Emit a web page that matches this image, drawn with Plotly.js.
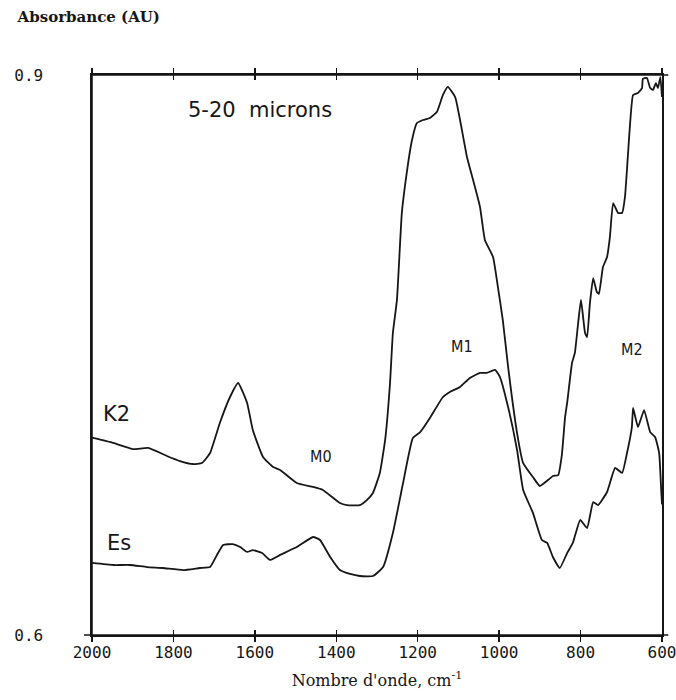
<!DOCTYPE html>
<html>
<head>
<meta charset="utf-8">
<script src="https://cdn.plot.ly/plotly-3.0.1.min.js"></script>
<style>html,body{margin:0;padding:0;background:#fff;}#chart{width:676px;height:700px;}</style>
</head>
<body>
<div id="chart"></div>
<script>
// Wavenumbers (cm-1) and absorbance values
const k2Wavenumber = [2000,1948,1899,1862,1816,1784,1752,1730,1710,1686,1661,1641,1619,1605,1580,1555,1538,1497,1457,1433,1391,1374,1342,1325,1310,1293,1280,1268,1261,1251,1239,1226,1214,1202,1187,1170,1153,1138,1126,1108,1096,1079,1064,1047,1035,1015,1003,991,978,956,941,917,900,880,868,855,846,838,833,821,814,806,799,789,784,777,769,760,755,745,735,728,720,708,698,691,679,671,659,649,647,637,629,622,615,610,604,600];
const k2Absorbance = [0.7057,0.7029,0.6996,0.7002,0.6959,0.6932,0.6916,0.6921,0.6975,0.7136,0.7275,0.7350,0.7243,0.7098,0.6954,0.6900,0.6884,0.6814,0.6793,0.6777,0.6707,0.6696,0.6696,0.6723,0.6761,0.6868,0.7045,0.7350,0.7618,0.7795,0.8261,0.8491,0.8652,0.8743,0.8759,0.8770,0.8802,0.8893,0.8936,0.8882,0.8759,0.8561,0.8437,0.8293,0.8116,0.8025,0.7864,0.7687,0.7436,0.7082,0.6921,0.6846,0.6798,0.6830,0.6852,0.6857,0.6964,0.7168,0.7243,0.7457,0.7511,0.7671,0.7795,0.7618,0.7596,0.7779,0.7912,0.7837,0.7827,0.7971,0.8025,0.8132,0.8314,0.8261,0.8261,0.8346,0.8721,0.8893,0.8904,0.8930,0.8979,0.8984,0.8930,0.8920,0.8957,0.8930,0.8989,0.8882];

const esWavenumber = [2000,1948,1907,1865,1826,1776,1735,1710,1693,1678,1654,1636,1619,1605,1582,1563,1538,1497,1457,1440,1415,1391,1366,1342,1310,1285,1261,1236,1212,1194,1170,1138,1121,1096,1072,1047,1030,1010,998,978,956,941,917,895,882,868,851,833,819,801,784,769,757,735,715,698,686,674,671,659,644,629,617,607,602,600];
const esAbsorbance = [0.6386,0.6375,0.6375,0.6364,0.6359,0.6348,0.6359,0.6364,0.6429,0.6482,0.6487,0.6471,0.6445,0.6455,0.6439,0.6402,0.6429,0.6471,0.6525,0.6509,0.6418,0.6348,0.6327,0.6316,0.6316,0.6364,0.6546,0.6814,0.7055,0.7087,0.7163,0.7275,0.7302,0.7329,0.7377,0.7404,0.7404,0.7420,0.7382,0.7221,0.6991,0.6777,0.6654,0.6509,0.6493,0.6418,0.6359,0.6439,0.6493,0.6616,0.6573,0.6712,0.6696,0.6766,0.6895,0.6868,0.6975,0.7114,0.7216,0.7114,0.7205,0.7087,0.7061,0.6975,0.6777,0.6700];

const xTickValues = [2000,1800,1600,1400,1200,1000,800,600];
const xTickLabels = ["2000","1800","1600","1400","1200","1000","800","600"];
const yTickValues = [0.6,0.9];
const yTickLabels = ["0.6","0.9"];

const seriesLabels = [
  {text:"K2", x:1941, y:0.7184},
  {text:"Es", x:1934, y:0.6493}
];
const bandLabels = [
  {text:"M0", x:1437, y:0.6954},
  {text:"M1", x:1091, y:0.7543},
  {text:"M2", x:674, y:0.7527}
];

const INK = "#161616";
const monoFont = {family:"DejaVu Sans Mono, Liberation Mono, monospace", size:16, color:INK};

const traces = [
  {x:k2Wavenumber, y:k2Absorbance, xaxis:"x", yaxis:"y", mode:"lines", line:{color:INK, width:1.8, shape:"spline", smoothing:0.4}, hoverinfo:"skip"},
  {x:esWavenumber, y:esAbsorbance, xaxis:"x2", yaxis:"y", mode:"lines", line:{color:INK, width:1.8, shape:"spline", smoothing:0.4}, hoverinfo:"skip"}
];

const annotations = [];
seriesLabels.forEach(s => annotations.push({
  text:s.text, x:s.x, y:s.y, xref:"x", yref:"y", showarrow:false,
  font:{family:"DejaVu Sans, Liberation Sans, sans-serif", size:21, color:INK}
}));
bandLabels.forEach(s => annotations.push({
  text:s.text, x:s.x, y:s.y, xref:"x", yref:"y", showarrow:false,
  font:{family:"Liberation Sans Narrow, DejaVu Sans Condensed, Liberation Sans, sans-serif", size:16, color:INK}
}));
annotations.push({
  text:"5-20\u00a0\u00a0microns", x:1587, y:0.8813, xref:"x", yref:"y", showarrow:false,
  font:{family:"DejaVu Sans, Liberation Sans, sans-serif", size:21, color:INK}
});

const layout = {
  width:676, height:700,
  margin:{l:92, r:14, t:75, b:65},
  paper_bgcolor:"#fff", plot_bgcolor:"#fff",
  showlegend:false,
  title:{text:"Absorbance (AU)", x:0.026, xanchor:"left", y:0.976, yanchor:"middle",
         font:{family:"DejaVu Serif, Liberation Serif, serif", size:15, color:INK, weight:600}},
  xaxis:{
    range:[2000,600], tickvals:xTickValues, ticktext:xTickLabels,
    ticks:"outside", ticklen:5, tickwidth:1.5, tickcolor:INK,
    showline:true, linecolor:INK, linewidth:1.6, mirror:"ticks",
    showgrid:false, zeroline:false, tickfont:monoFont,
    ticklabeloverflow:"allow", ticklabelstandoff:-3,
    title:{text:"Nombre d'onde, cm<sup>-1</sup>", standoff:14,
           font:{family:"DejaVu Serif, Liberation Serif, serif", size:16, color:INK}},
    fixedrange:true
  },
  xaxis2:{
    range:[2000,600], overlaying:"x", anchor:"y", side:"bottom",
    tickvals:xTickValues, showticklabels:false,
    ticks:"inside", ticklen:5, tickwidth:1.5, tickcolor:INK,
    showline:false, mirror:"ticks", showgrid:false, zeroline:false, fixedrange:true
  },
  yaxis:{
    range:[0.6,0.9], tickvals:yTickValues, ticktext:yTickLabels,
    ticks:"", showline:true, linecolor:INK, linewidth:1.6, mirror:true,
    showgrid:false, zeroline:false, tickfont:monoFont, ticklabelstandoff:44,
    fixedrange:true
  },
  annotations:annotations,
  shapes:[
    {type:"line", xref:"paper", yref:"paper", x0:-0.014, x1:1.011, y0:0, y1:0, line:{color:INK, width:1.6}},
    {type:"line", xref:"paper", yref:"paper", x0:0, x1:1.011, y0:1, y1:1, line:{color:INK, width:1.6}},
    {type:"line", xref:"paper", yref:"paper", x0:0, x1:0, y0:0, y1:1.009, line:{color:INK, width:1.6}}
  ]
};

Plotly.newPlot("chart", traces, layout, {displayModeBar:false, staticPlot:true});
</script>
</body>
</html>
